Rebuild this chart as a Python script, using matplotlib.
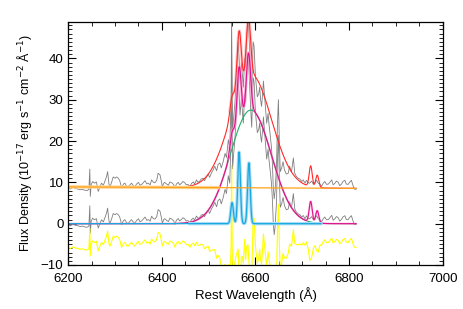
import numpy as np
import matplotlib
matplotlib.use('Agg')
import matplotlib.pyplot as plt
from matplotlib.ticker import MultipleLocator

plt.rcParams['font.family'] = ['Liberation Sans', 'DejaVu Sans']

wave = [6200, 6205, 6210, 6215, 6220, 6225, 6230, 6235, 6240, 6244, 6246, 6247,
        6249, 6252, 6256, 6260, 6264, 6268, 6271, 6275, 6278, 6282, 6284, 6287,
        6289, 6292, 6296, 6300, 6303, 6307, 6310, 6314, 6318, 6321, 6325, 6328,
        6332, 6335, 6339, 6342, 6346, 6350, 6353, 6357, 6360, 6364, 6368, 6371,
        6375, 6378, 6382, 6385, 6389, 6392, 6396, 6399, 6401, 6404, 6406, 6410,
        6414, 6417, 6421, 6425, 6428, 6431, 6435, 6438, 6442, 6445, 6449, 6452,
        6456, 6460, 6463, 6467, 6470, 6474, 6477, 6481, 6484, 6488, 6491, 6495,
        6499, 6502, 6506, 6510, 6513, 6517, 6520, 6524, 6527, 6531, 6535, 6538,
        6542, 6545, 6548, 6549, 6551, 6553, 6556, 6560, 6563, 6565, 6567, 6570,
        6572, 6574, 6577, 6579, 6581, 6584, 6586, 6588, 6590, 6592, 6595, 6597,
        6600, 6602, 6604, 6607, 6609, 6611, 6613, 6615, 6617, 6620, 6622, 6624,
        6627, 6629, 6631, 6634, 6636, 6638, 6640, 6642, 6645, 6647, 6649, 6651,
        6653, 6656, 6659, 6662, 6666, 6670, 6673, 6677, 6681, 6684, 6687, 6691,
        6695, 6699, 6702, 6706, 6709, 6713, 6716, 6720, 6724, 6727, 6731, 6734,
        6738, 6741, 6745, 6748, 6752, 6756, 6759, 6763, 6766, 6770, 6773, 6777,
        6780, 6784, 6787, 6791, 6794, 6798, 6801, 6805, 6808, 6811, 6815]
flux = [8.6, 8.4, 8.8, 8.5, 8.4, 8.2, 8.3, 8.1, 8.0, 8.3, 13.2, 6.6,
        9.5, 10.2, 9.8, 10.1, 7.8, 9.0, 9.8, 9.3, 10.2, 11.5, 12.6, 9.5,
        8.9, 9.8, 11.3, 11.0, 11.3, 11.0, 10.4, 8.6, 9.6, 9.8, 9.0, 8.9,
        9.4, 9.8, 9.2, 8.9, 9.6, 10.0, 9.3, 9.5, 9.9, 10.4, 9.6, 9.8,
        9.4, 10.6, 10.0, 9.9, 10.5, 12.2, 11.8, 10.2, 8.9, 9.8, 10.0, 9.6,
        9.3, 10.1, 9.9, 9.5, 8.6, 9.6, 10.0, 9.4, 9.8, 10.2, 9.9, 9.4,
        9.5, 8.9, 9.7, 10.1, 9.6, 10.6, 10.0, 10.3, 10.8, 11.0, 10.4, 11.2,
        12.0, 11.2, 12.3, 13.1, 13.9, 12.8, 14.3, 14.7, 13.5, 15.0, 17.0, 16.0,
        20.3, 18.5, 30.0, 50.0, 22.0, 25.0, 29.0, 37.0, 44.0, 40.0, 35.0, 39.0,
        36.0, 33.0, 40.0, 38.0, 45.0, 50.0, 46.0, 41.0, 36.0, 32.0, 44.0, 43.0,
        35.6, 33.0, 30.7, 31.5, 33.0, 30.0, 28.4, 31.0, 34.5, 30.0, 27.0, 24.3,
        26.7, 24.0, 22.0, 18.7, 15.0, 9.0, 6.0, 8.0, 14.0, 24.0, 30.0, 20.0,
        12.6, 13.5, 15.0, 13.0, 12.0, 12.2, 13.9, 12.5, 15.9, 12.2, 11.5, 11.0,
        10.8, 10.2, 10.6, 9.8, 10.5, 9.9, 9.8, 10.3, 9.5, 10.0, 10.5, 9.8,
        9.6, 9.0, 9.8, 10.2, 9.5, 9.6, 10.0, 10.6, 9.4, 9.8, 10.3, 10.0,
        9.2, 9.6, 10.2, 10.5, 9.6, 9.5, 10.0, 10.5, 9.4, 8.4, 8.3]

# fitted components
cont_ends = [8.9, 8.55]                  # continuum at 6200 and 6815
broad_par = [6590.0, 27.5, 44.0]         # centre, peak, sigma
line_cen = [6550.0, 6565.0, 6585.0, 6718.0, 6732.0]
line_amp = [4.0, 14.5, 14.0, 5.0, 3.0]
line_sig = [4.5, 4.5, 4.5, 3.2, 3.2]
narrow_cen = [6550.0, 6565.0, 6586.0]
narrow_amp = [5.1, 17.3, 14.7]
narrow_sig = [2.8, 2.8, 2.8]
resid_offset = -5.5


def gauss(x, c, a, s):
    return a * np.exp(-0.5 * ((x - c) / s) ** 2)


def continuum(x):
    return np.interp(x, [6200, 6815], cont_ends)


def lines(x):
    return sum(gauss(x, c, a, s) for c, a, s in zip(line_cen, line_amp, line_sig))


def narrow(x):
    return sum(gauss(x, c, a, s) for c, a, s in zip(narrow_cen, narrow_amp, narrow_sig))


wave = np.array(wave, dtype=float)
flux = np.array(flux)
x = np.arange(6200, 6815.5, 0.5)
broad = gauss(x, *broad_par)
emis = broad + lines(x)
total = continuum(x) + emis

sub = flux - continuum(wave)
resid = flux - (continuum(wave) + gauss(wave, *broad_par) + lines(wave)) + resid_offset

fig = plt.figure(figsize=(4.63, 3.09), dpi=100)
ax = fig.add_axes([0.1475, 0.1424, 0.8085, 0.7864])

grey = '#7f7f7f'
ax.plot(wave, flux, color=grey, lw=0.6)
ax.plot(wave, sub, color=grey, lw=0.6)
ax.plot(wave, resid, color='#ffff00', lw=0.8)

pk = (x >= 6545) & (x <= 6595)
ax.plot(x[pk], total[pk], color='#ff9a9a', lw=2.2, alpha=0.5)
ax.plot(x, total, color='#ff2a2a', lw=0.8)
ax.plot(x, broad, color='#1fb06a', lw=0.8)
ax.plot(x[pk], emis[pk], color='#ff9ad0', lw=2.2, alpha=0.6)
ax.plot(x, emis, color='#ff9ad0', lw=1.6, alpha=0.5)
ax.plot(x, emis, color='#e0108a', lw=0.8)

m = x <= 6740
band = (x >= 6460) & m
ax.plot(x[band], narrow(x[band]), color='#a8ddf5', lw=2.4)
ax.plot(x[m], narrow(x[m]), color='#1aa8e0', lw=0.9)

pale = x <= 6520
ax.plot(x[pale], continuum(x[pale]), color='#ffd490', lw=2.4)
ax.plot(x, continuum(x), color='#ffa21a', lw=0.9)

ax.set_xlim(6200, 7000)
ax.set_ylim(-10, 48.8)
ax.xaxis.set_major_locator(MultipleLocator(200))
ax.xaxis.set_minor_locator(MultipleLocator(50))
ax.yaxis.set_major_locator(MultipleLocator(10))
ax.yaxis.set_minor_locator(MultipleLocator(1))
ax.tick_params(which='both', direction='in', top=True, right=True, labelsize=9.5)
ax.tick_params(which='major', length=6, width=0.8)
ax.tick_params(which='minor', length=3, width=0.6)
ax.tick_params(axis='x', pad=6)
ax.set_yticks([-10, 0, 10, 20, 30, 40])
ax.set_yticklabels(['\u221210', '0', '10', '20', '30', '40'])
for s in ax.spines.values():
    s.set_linewidth(0.9)

ax.set_xlabel('Rest Wavelength (\u00c5)', fontsize=9.5, labelpad=1)
ax.set_ylabel('Flux Density (10$^{-17}$ erg s$^{-1}$ cm$^{-2}$ \u00c5$^{-1}$)',
              fontsize=9, labelpad=5)

fig.savefig('out.png', dpi=100)
